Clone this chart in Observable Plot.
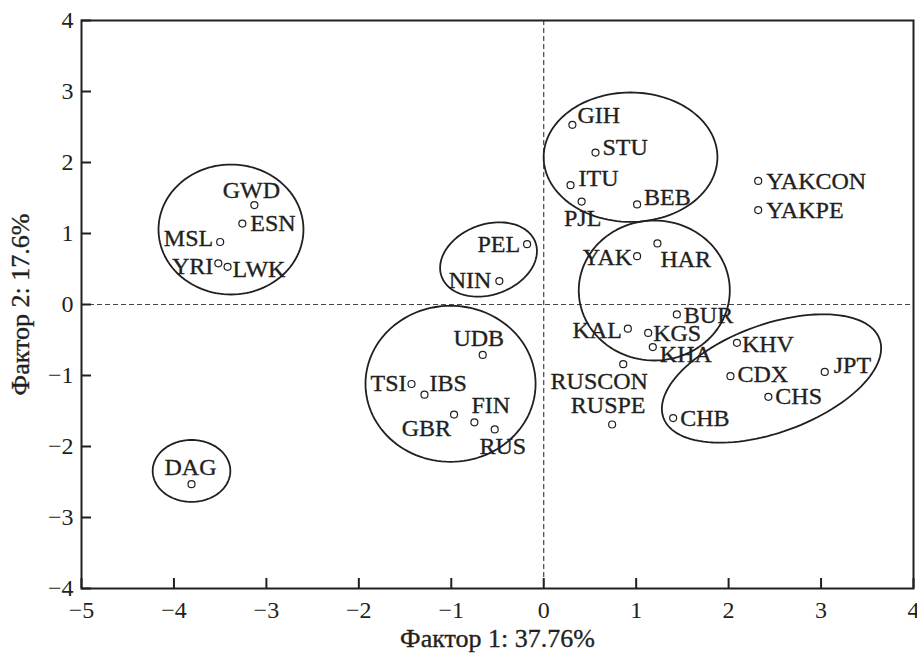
<!DOCTYPE html>
<html>
<head>
<meta charset="utf-8">
<script src="https://cdn.jsdelivr.net/npm/d3@7"></script>
<script src="https://cdn.jsdelivr.net/npm/@observablehq/plot@0.6"></script>
<style>
  body { margin: 0; background: #fff; }
  #chart svg { font-family: "Liberation Serif", "Times New Roman", serif; }
</style>
</head>
<body>
<div id="chart"></div>
<script>
// ---- data ----
const populations = ["GWD","ESN","MSL","YRI","LWK","DAG","GIH","STU","ITU","PJL","BEB","PEL","NIN","YAK","HAR","YAKCON","YAKPE","BUR","KAL","KGS","KHA","KHV","JPT","CDX","CHS","CHB","RUSCON","RUSPE","UDB","TSI","IBS","GBR","FIN","RUS"];
const factor1 = [-3.13,-3.26,-3.50,-3.52,-3.42,-3.81,0.31,0.56,0.29,0.41,1.01,-0.18,-0.48,1.01,1.23,2.32,2.32,1.44,0.91,1.13,1.18,2.09,3.04,2.02,2.43,1.40,0.86,0.74,-0.66,-1.43,-1.29,-0.97,-0.75,-0.53];
const factor2 = [1.40,1.14,0.88,0.58,0.53,-2.53,2.53,2.14,1.68,1.45,1.41,0.85,0.33,0.68,0.86,1.74,1.33,-0.14,-0.34,-0.40,-0.60,-0.54,-0.95,-1.01,-1.30,-1.60,-0.84,-1.69,-0.71,-1.12,-1.27,-1.55,-1.66,-1.76];

const xTicks = [-5,-4,-3,-2,-1,0,1,2,3,4];
const yTicks = [-4,-3,-2,-1,0,1,2,3,4];
const xLabel = "Фактор 1: 37.76%";
const yLabel = "Фактор 2: 17.6%";

// cluster ellipses: centre (data units), semi-axes (in x-axis units), tilt (deg)
const clusterNames = ["AFR","DAG","PEL","SAS","SIB","EAS","EUR"];
const clusterCx    = [-3.383,-3.81,-0.597,0.939,1.196,2.464,-1.008];
const clusterCy    = [1.056,-2.344,0.634,2.075,0.197,-1.042,-1.117];
const clusterA     = [0.784,0.42,0.54,0.94,0.817,1.244,0.92];
const clusterB     = [0.703,0.335,0.38,0.70,0.757,0.584,0.844];
const clusterTilt  = [0,0,20,0,0,20,0];

// ---- layout ----
const W = 917, H = 654;
const mt = 20, mr = 4, mb = 66, ml = 81;
const pw = W - ml - mr, ph = H - mt - mb;
const xDomain = [-5, 4], yDomain = [-4, 4];
const aspect = (pw / (xDomain[1] - xDomain[0])) / (ph / (yDomain[1] - yDomain[0]));
const ink = "#231f20";

// label placement: [textAnchor, dx, dy]
const labelPlace = {
  GWD:["middle",-3,-15], ESN:["start",8,0], MSL:["end",-7,-4], YRI:["end",-5,3], LWK:["start",5,2],
  DAG:["middle",-1,-17], GIH:["start",5,-10], STU:["start",7,-5], ITU:["start",8,-7], PJL:["middle",1,17],
  BEB:["start",7,-7], PEL:["end",-7,0], NIN:["end",-8,-1], YAK:["end",-5,1], HAR:["start",3,16],
  YAKCON:["start",8,0], YAKPE:["start",8,0], BUR:["start",7,1], KAL:["end",-6,2], KGS:["start",5,0],
  KHA:["start",7,7], KHV:["start",5,1], JPT:["start",9,-7], CDX:["start",7,-2], CHS:["start",7,0],
  CHB:["start",7,0], RUSCON:["middle",-24,17], RUSPE:["middle",-4,-19], UDB:["middle",-4,-17],
  TSI:["end",-5,-1], IBS:["start",5,-11], GBR:["end",-3,14], FIN:["start",-3,-17], RUS:["middle",8,17]
};

const points = populations.map((name, i) => ({name, x: factor1[i], y: factor2[i]}));

const ellipsePts = [];
clusterNames.forEach((c, i) => {
  const th = clusterTilt[i] * Math.PI / 180;
  const n = 120;
  for (let k = 0; k <= n; k++) {
    const t = 2 * Math.PI * k / n;
    const ex = clusterA[i] * Math.cos(t), ey = clusterB[i] * Math.sin(t);
    ellipsePts.push({
      cluster: c,
      x: clusterCx[i] + ex * Math.cos(th) - ey * Math.sin(th),
      y: clusterCy[i] + (ex * Math.sin(th) + ey * Math.cos(th)) * aspect
    });
  }
});

const textStyle = {fill: ink, stroke: ink, strokeWidth: 0.35};

const labelMarks = points.map(p => {
  const [anchor, dx, dy] = labelPlace[p.name];
  return Plot.text([p], {x: "x", y: "y", text: "name", textAnchor: anchor, dx, dy,
    lineAnchor: "middle", fontSize: 24, ...textStyle});
});

const chart = Plot.plot({
  width: W, height: H,
  marginTop: mt, marginRight: mr, marginBottom: mb, marginLeft: ml,
  x: {domain: xDomain, ticks: xTicks},
  y: {domain: yDomain, ticks: yTicks},
  style: {fontFamily: '"Liberation Serif", "Times New Roman", serif', background: "#fff", color: ink},
  marks: [
    Plot.ruleX([0], {stroke: "#444", strokeWidth: 1.2, strokeDasharray: "5,3"}),
    Plot.ruleY([0], {stroke: "#444", strokeWidth: 1.2, strokeDasharray: "5,3"}),
    Plot.line(ellipsePts, {x: "x", y: "y", z: "cluster", stroke: ink, strokeWidth: 1.8}),
    Plot.dot(points, {x: "x", y: "y", r: 3.5, stroke: ink, strokeWidth: 1.2, fill: "white"}),
    ...labelMarks,
    Plot.tickX(xTicks, {x: d => d, insetTop: ph - 10, stroke: ink, strokeWidth: 2}),
    Plot.tickY(yTicks, {y: d => d, insetRight: pw - 10, stroke: ink, strokeWidth: 2}),
    Plot.frame({stroke: ink, strokeWidth: 2}),
    Plot.axisX({ticks: xTicks, tickSize: 0, tickPadding: 12, fontSize: 24, label: null, ...textStyle}),
    Plot.axisY({ticks: yTicks, tickSize: 0, tickPadding: 8, fontSize: 24, label: null, ...textStyle}),
    Plot.text([xLabel], {frameAnchor: "bottom", dy: 50, fontSize: 26, textAnchor: "middle", lineAnchor: "middle", ...textStyle}),
    Plot.text([yLabel], {frameAnchor: "left", dx: -61, rotate: -90, fontSize: 26, textAnchor: "middle", lineAnchor: "middle", ...textStyle})
  ]
});
document.getElementById("chart").appendChild(chart);
</script>
</body>
</html>
